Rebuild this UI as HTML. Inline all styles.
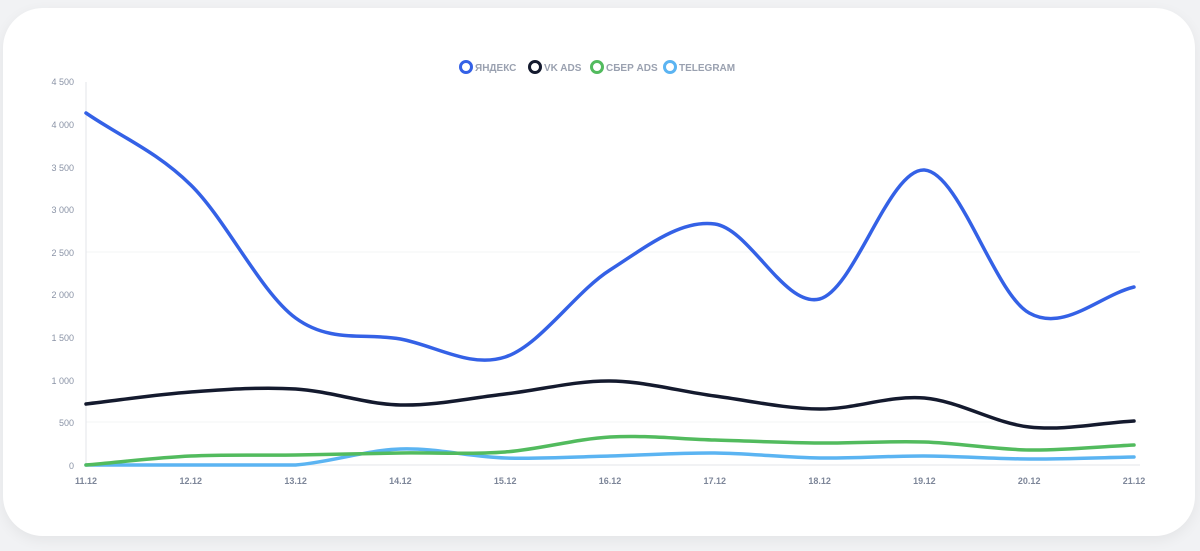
<!DOCTYPE html>
<html><head><meta charset="utf-8"><style>
body{margin:0;width:1200px;height:551px;background:#f1f2f4;font-family:"Liberation Sans",sans-serif;overflow:hidden}
.card{position:absolute;left:3px;top:8px;width:1192px;height:528px;background:#fff;border-radius:40px;box-shadow:0 4px 14px rgba(0,0,0,0.06)}
svg{position:absolute;left:0;top:0}
</style></head><body>
<div class="card"></div>
<svg id="s" width="1200" height="551" xmlns="http://www.w3.org/2000/svg">
<g font-size="9" fill="#8a93a6" text-anchor="end">
<text x="74" y="85">4 500</text><text x="74" y="128">4 000</text><text x="74" y="171">3 500</text>
<text x="74" y="213">3 000</text><text x="74" y="256">2 500</text><text x="74" y="298">2 000</text>
<text x="74" y="341">1 500</text><text x="74" y="384">1 000</text><text x="74" y="426">500</text><text x="74" y="469">0</text>
</g>
<g stroke="#f3f4f6" stroke-width="1">
<line x1="86" x2="1140" y1="252" y2="252"/><line x1="86" x2="1140" y1="422" y2="422"/>
</g>
<line x1="86" y1="82" x2="86" y2="465" stroke="#e3e5ea"/>
<line x1="86" y1="465" x2="1140" y2="465" stroke="#e3e5ea"/>
<g font-size="9" fill="#7d8699" text-anchor="middle" font-weight="bold" id="xl"></g>
<g id="lines" fill="none" stroke-width="3.5" stroke-linecap="round"></g>
<g font-size="10" font-weight="bold" fill="#9aa1b0">
<circle cx="466" cy="67" r="5.5" fill="none" stroke="#3461e6" stroke-width="3"/><text x="475" y="71">ЯНДЕКС</text>
<circle cx="535" cy="67" r="5.5" fill="none" stroke="#141a2e" stroke-width="3"/><text x="544" y="71">VK ADS</text>
<circle cx="597" cy="67" r="5.5" fill="none" stroke="#52bb5e" stroke-width="3"/><text x="606" y="71">СБЕР ADS</text>
<circle cx="670" cy="67" r="5.5" fill="none" stroke="#5bb4f2" stroke-width="3"/><text x="679" y="71">TELEGRAM</text>
</g>
</svg>
<script>
var X=[];for(var i=0;i<11;i++)X.push(86+104.8*i);
var xl=document.getElementById('xl'),s='';
for(var i=0;i<11;i++)s+='<text x="'+X[i]+'" y="484">'+(11+i)+'.12</text>';xl.innerHTML=s;
var D={
'#3461e6':[113,185,318,339,357,270,224,299,170,313,287],
'#141a2e':[404,392,389,405,394,381,396,409,398,427,421],
'#52bb5e':[465,456,455,453,452,437,440,443,442,450,445],
'#5bb4f2':[465,465,465,449,458,456,453,458,456,459,457]};
function path(Y){var p='M'+X[0]+','+Y[0];for(var i=0;i<10;i++){var y0=Y[Math.max(i-1,0)],y1=Y[i],y2=Y[i+1],y3=Y[Math.min(i+2,10)];
var h=104.8/3;var m1=(y2-y0)/((i==0?1:2)*104.8),m2=(y3-y1)/((i==9?1:2)*104.8);
if(y1>=465&&y2>=465){m1=0;m2=0;}
if(y1>=465)m1=Math.min(m1,0);
var c1=Math.min(y1+m1*h,465),c2=Math.min(y2-m2*h,465);
p+=' C'+(X[i]+h)+','+c1+' '+(X[i+1]-h)+','+c2+' '+X[i+1]+','+y2;}return p;}
var g='';var keys=['#5bb4f2','#52bb5e','#141a2e','#3461e6'];
keys.forEach(function(c){g+='<path d="'+path(D[c])+'" stroke="'+c+'"/>';});
document.getElementById('lines').innerHTML=g;
</script>
</body></html>
